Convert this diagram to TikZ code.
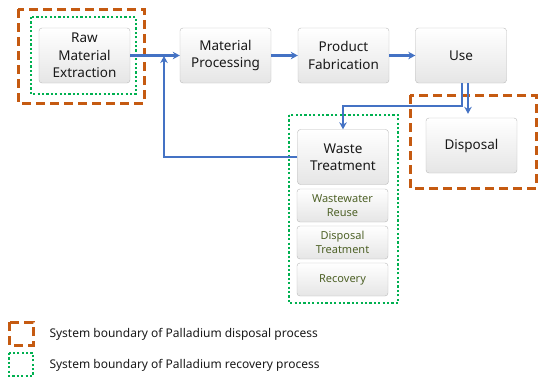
\documentclass[tikz,border=0pt]{standalone}
\usepackage{fontspec}
\setmainfont{Noto Sans}
\usetikzlibrary{positioning,calc,arrows.meta}
\definecolor{arrblue}{HTML}{4472C4}
\definecolor{bdorange}{HTML}{C55A11}
\definecolor{bdgreen}{HTML}{00B050}
\definecolor{subgreen}{HTML}{4F6228}
\tikzset{
  stage/.style={draw=gray!55, rounded corners=3pt, top color=white, bottom color=gray!20,
    minimum width=91pt, minimum height=55pt, align=center, inner sep=2pt,
    font=\fontsize{13.5}{17.5}\selectfont, text=black!90},
  substage/.style={stage, minimum height=33pt, font=\fontsize{11}{13.5}\selectfont, text=subgreen},
  flow/.style={draw=arrblue, line width=2.6pt, -{Stealth[length=7pt,width=7.5pt]}},
  dispbound/.style={draw=bdorange, line width=3pt, dash pattern=on 9pt off 5pt},
  recbound/.style={draw=bdgreen, line width=2.6pt, dash pattern=on 2.2pt off 2.2pt},
  legend/.style={anchor=west, font=\fontsize{12}{14}\selectfont, text=black!90},
}

\begin{document}
\begin{tikzpicture}[x=1pt,y=-1pt]
    \useasboundingbox (0,0) rectangle (538,378);
    \node[stage] (raw) at (84.5,55.5) {Raw\\Material\\Extraction};
    \node[stage] (mat) at (225.5,55.5) {Material\\Processing};
    \node[stage] (prod) at (343.5,55.5) {Product\\Fabrication};
    \node[stage] (use) at (461,55.5) {Use};
    \node[stage] (waste) at (343,157) {Waste\\Treatment};
    \node[substage] (reuse) at (342.5,205.5) {Wastewater\\Reuse};
    \node[substage] (dtreat) at (342.5,242.5) {Disposal\\Treatment};
    \node[substage] (recov) at (342.5,279.5) {Recovery};
    \node[stage] (disp) at (471.5,145.5) {Disposal};

    \draw[dispbound] (18,9) rectangle (144,103);
    \draw[recbound] (31,17) rectangle (136,94);
    \draw[recbound] (289,115) rectangle (398,303);
    \draw[dispbound] (410,95) rectangle (536,188);

    \coordinate (split) at (343,106);
    \coordinate (join) at (164,56);
    \draw[flow] (raw) -- (mat);
    \draw[flow] (mat) -- (prod);
    \draw[flow] (prod) -- (use);
    \draw[flow] ([xshift=1pt]use.south) |- (split) -- (waste.north);
    \draw[flow, shorten >=4pt] ([xshift=7pt]use.south) -- ([xshift=7pt]use.south |- disp.north);
    \draw[flow] (waste.west) -| (join);

    \draw[dispbound] (9,322) rectangle (33,345);
    \node[legend] (lgdisp) at (46,334) {System boundary of Palladium disposal process};
    \draw[recbound] (9,353) rectangle (33,376);
    \node[legend] (lgrec) at (46,365) {System boundary of Palladium recovery process};
\end{tikzpicture}
\end{document}
